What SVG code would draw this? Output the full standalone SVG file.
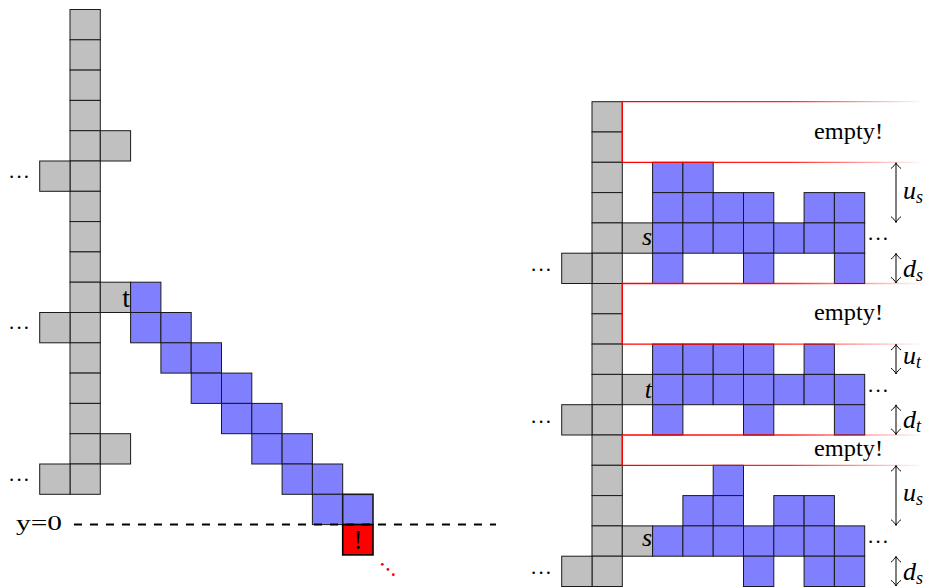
<svg xmlns="http://www.w3.org/2000/svg" width="930" height="587" viewBox="0 0 930 587">
<style>
.g{fill:#c0c0c0;stroke:#1a1a1a;stroke-width:1}
.b{fill:#8080ff;stroke:#1a1a1a;stroke-width:1}
.r{fill:#ff0000;stroke:#000;stroke-width:1.6}
.txt{font-family:"Liberation Serif",serif;fill:#000}
.it{font-family:"Liberation Serif",serif;font-style:italic;fill:#000}
.dots{font-family:"Liberation Serif",serif;font-size:21px;fill:#000;font-variant-ligatures:none}
.emp{font-family:"Liberation Serif",serif;font-size:24px;fill:#000}
.red{stroke:url(#fade);stroke-width:1.3;fill:none}
.redv{stroke:#ff0000;stroke-width:1.3;fill:none}
.arr{stroke:#000;stroke-width:1;fill:none}
</style>
<defs>
<linearGradient id="fade" gradientUnits="userSpaceOnUse" x1="622" y1="0" x2="925" y2="0">
<stop offset="0" stop-color="#ff0000" stop-opacity="1"/>
<stop offset="0.55" stop-color="#ff0000" stop-opacity="0.85"/>
<stop offset="1" stop-color="#ff0000" stop-opacity="0"/>
</linearGradient>
</defs>

<g id="left-diagram">
<g id="left-column">
<rect class="g" x="70" y="9.5" width="30.3" height="30.3"/>
<rect class="g" x="70" y="39.8" width="30.3" height="30.3"/>
<rect class="g" x="70" y="70.1" width="30.3" height="30.3"/>
<rect class="g" x="70" y="100.4" width="30.3" height="30.3"/>
<rect class="g" x="70" y="130.7" width="30.3" height="30.3"/>
<rect class="g" x="70" y="161" width="30.3" height="30.3"/>
<rect class="g" x="70" y="191.3" width="30.3" height="30.3"/>
<rect class="g" x="70" y="221.6" width="30.3" height="30.3"/>
<rect class="g" x="70" y="251.9" width="30.3" height="30.3"/>
<rect class="g" x="70" y="282.2" width="30.3" height="30.3"/>
<rect class="g" x="70" y="312.5" width="30.3" height="30.3"/>
<rect class="g" x="70" y="342.8" width="30.3" height="30.3"/>
<rect class="g" x="70" y="373.1" width="30.3" height="30.3"/>
<rect class="g" x="70" y="403.4" width="30.3" height="30.3"/>
<rect class="g" x="70" y="433.7" width="30.3" height="30.3"/>
<rect class="g" x="70" y="464" width="30.3" height="30.3"/>
<rect class="g" x="100.3" y="130.7" width="30.3" height="30.3"/>
<rect class="g" x="100.3" y="282.2" width="30.3" height="30.3"/>
<rect class="g" x="100.3" y="433.7" width="30.3" height="30.3"/>
<rect class="g" x="39.7" y="161" width="30.3" height="30.3"/>
<rect class="g" x="39.7" y="312.5" width="30.3" height="30.3"/>
<rect class="g" x="39.7" y="464" width="30.3" height="30.3"/>
<text class="txt" x="130" y="306.5" font-size="28" text-anchor="end">t</text>
<text class="dots" x="9" y="178" textLength="20" lengthAdjust="spacing">...</text>
<text class="dots" x="9" y="329" textLength="20" lengthAdjust="spacing">...</text>
<text class="dots" x="9" y="481" textLength="20" lengthAdjust="spacing">...</text>
</g>
<g id="left-diagonal">
<rect class="b" x="130.6" y="282.2" width="30.3" height="30.3"/>
<rect class="b" x="130.6" y="312.5" width="30.3" height="30.3"/>
<rect class="b" x="160.9" y="312.5" width="30.3" height="30.3"/>
<rect class="b" x="160.9" y="342.8" width="30.3" height="30.3"/>
<rect class="b" x="191.2" y="342.8" width="30.3" height="30.3"/>
<rect class="b" x="191.2" y="373.1" width="30.3" height="30.3"/>
<rect class="b" x="221.5" y="373.1" width="30.3" height="30.3"/>
<rect class="b" x="221.5" y="403.4" width="30.3" height="30.3"/>
<rect class="b" x="251.8" y="403.4" width="30.3" height="30.3"/>
<rect class="b" x="251.8" y="433.7" width="30.3" height="30.3"/>
<rect class="b" x="282.1" y="433.7" width="30.3" height="30.3"/>
<rect class="b" x="282.1" y="464" width="30.3" height="30.3"/>
<rect class="b" x="312.4" y="464" width="30.3" height="30.3"/>
<rect class="b" x="312.4" y="494.3" width="30.3" height="30.3"/>
<rect class="b" x="342.7" y="494.3" width="30.3" height="30.3" style="stroke-width:1.6"/>
</g>
<g id="red-cell">
<rect class="r" x="342.7" y="524.6" width="30.3" height="30.3"/>
<text class="txt" x="357.9" y="548.5" font-size="28" text-anchor="middle">!</text>
<circle cx="382.3" cy="564.3" r="1.4" fill="#ff0000"/>
<circle cx="387.9" cy="569.4" r="1.4" fill="#ff0000"/>
<circle cx="393.3" cy="574.7" r="1.4" fill="#ff0000"/>
</g>
<g id="y0-line">
<line x1="74" y1="524.6" x2="496" y2="524.6" stroke="#000" stroke-width="2" stroke-dasharray="8 8"/>
<text class="txt" x="16" y="530" font-size="22" textLength="46" lengthAdjust="spacingAndGlyphs">y=0</text>
</g>
</g>

<g id="right-diagram">
<g id="right-column">
<rect class="g" x="592" y="101.7" width="30.3" height="30.3"/>
<rect class="g" x="592" y="132" width="30.3" height="30.3"/>
<rect class="g" x="592" y="162.3" width="30.3" height="30.3"/>
<rect class="g" x="592" y="192.6" width="30.3" height="30.3"/>
<rect class="g" x="592" y="222.9" width="30.3" height="30.3"/>
<rect class="g" x="592" y="253.2" width="30.3" height="30.3"/>
<rect class="g" x="592" y="283.5" width="30.3" height="30.3"/>
<rect class="g" x="592" y="313.8" width="30.3" height="30.3"/>
<rect class="g" x="592" y="344.1" width="30.3" height="30.3"/>
<rect class="g" x="592" y="374.4" width="30.3" height="30.3"/>
<rect class="g" x="592" y="404.7" width="30.3" height="30.3"/>
<rect class="g" x="592" y="435" width="30.3" height="30.3"/>
<rect class="g" x="592" y="465.3" width="30.3" height="30.3"/>
<rect class="g" x="592" y="495.6" width="30.3" height="30.3"/>
<rect class="g" x="592" y="525.9" width="30.3" height="30.3"/>
<rect class="g" x="592" y="556.2" width="30.3" height="30.3"/>
<rect class="g" x="561.7" y="253.2" width="30.3" height="30.3"/>
<rect class="g" x="561.7" y="404.7" width="30.3" height="30.3"/>
<rect class="g" x="561.7" y="556.2" width="30.3" height="30.3"/>
<text class="dots" x="531" y="271" textLength="20" lengthAdjust="spacing">...</text>
<text class="dots" x="531" y="422.5" textLength="20" lengthAdjust="spacing">...</text>
<text class="dots" x="531" y="574" textLength="20" lengthAdjust="spacing">...</text>
</g>

<g id="block-s1">
<rect class="g" x="622.3" y="222.9" width="30.3" height="30.3"/>
<text class="it" x="652" y="244.5" font-size="26" text-anchor="end">s</text>
<rect class="b" x="652.6" y="162.3" width="30.3" height="30.3"/>
<rect class="b" x="682.9" y="162.3" width="30.3" height="30.3"/>
<rect class="b" x="652.6" y="192.6" width="30.3" height="30.3"/>
<rect class="b" x="682.9" y="192.6" width="30.3" height="30.3"/>
<rect class="b" x="713.2" y="192.6" width="30.3" height="30.3"/>
<rect class="b" x="743.5" y="192.6" width="30.3" height="30.3"/>
<rect class="b" x="804.1" y="192.6" width="30.3" height="30.3"/>
<rect class="b" x="834.4" y="192.6" width="30.3" height="30.3"/>
<rect class="b" x="652.6" y="222.9" width="30.3" height="30.3"/>
<rect class="b" x="682.9" y="222.9" width="30.3" height="30.3"/>
<rect class="b" x="713.2" y="222.9" width="30.3" height="30.3"/>
<rect class="b" x="743.5" y="222.9" width="30.3" height="30.3"/>
<rect class="b" x="773.8" y="222.9" width="30.3" height="30.3"/>
<rect class="b" x="804.1" y="222.9" width="30.3" height="30.3"/>
<rect class="b" x="834.4" y="222.9" width="30.3" height="30.3"/>
<rect class="b" x="652.6" y="253.2" width="30.3" height="30.3"/>
<rect class="b" x="743.5" y="253.2" width="30.3" height="30.3"/>
<rect class="b" x="834.4" y="253.2" width="30.3" height="30.3"/>
<text class="dots" x="868" y="240" textLength="20" lengthAdjust="spacing">...</text>
</g>

<g id="block-t">
<rect class="g" x="622.3" y="374.4" width="30.3" height="30.3"/>
<text class="it" x="652" y="397.5" font-size="26" text-anchor="end">t</text>
<rect class="b" x="652.6" y="344.1" width="30.3" height="30.3"/>
<rect class="b" x="682.9" y="344.1" width="30.3" height="30.3"/>
<rect class="b" x="713.2" y="344.1" width="30.3" height="30.3"/>
<rect class="b" x="743.5" y="344.1" width="30.3" height="30.3"/>
<rect class="b" x="804.1" y="344.1" width="30.3" height="30.3"/>
<rect class="b" x="652.6" y="374.4" width="30.3" height="30.3"/>
<rect class="b" x="682.9" y="374.4" width="30.3" height="30.3"/>
<rect class="b" x="713.2" y="374.4" width="30.3" height="30.3"/>
<rect class="b" x="743.5" y="374.4" width="30.3" height="30.3"/>
<rect class="b" x="773.8" y="374.4" width="30.3" height="30.3"/>
<rect class="b" x="804.1" y="374.4" width="30.3" height="30.3"/>
<rect class="b" x="834.4" y="374.4" width="30.3" height="30.3"/>
<rect class="b" x="652.6" y="404.7" width="30.3" height="30.3"/>
<rect class="b" x="743.5" y="404.7" width="30.3" height="30.3"/>
<rect class="b" x="834.4" y="404.7" width="30.3" height="30.3"/>
<text class="dots" x="868" y="391.5" textLength="20" lengthAdjust="spacing">...</text>
</g>

<g id="block-s2">
<rect class="g" x="622.3" y="525.9" width="30.3" height="30.3"/>
<text class="it" x="652" y="546" font-size="26" text-anchor="end">s</text>
<rect class="b" x="713.2" y="465.3" width="30.3" height="30.3"/>
<rect class="b" x="682.9" y="495.6" width="30.3" height="30.3"/>
<rect class="b" x="713.2" y="495.6" width="30.3" height="30.3"/>
<rect class="b" x="773.8" y="495.6" width="30.3" height="30.3"/>
<rect class="b" x="804.1" y="495.6" width="30.3" height="30.3"/>
<rect class="b" x="652.6" y="525.9" width="30.3" height="30.3"/>
<rect class="b" x="682.9" y="525.9" width="30.3" height="30.3"/>
<rect class="b" x="713.2" y="525.9" width="30.3" height="30.3"/>
<rect class="b" x="743.5" y="525.9" width="30.3" height="30.3"/>
<rect class="b" x="773.8" y="525.9" width="30.3" height="30.3"/>
<rect class="b" x="804.1" y="525.9" width="30.3" height="30.3"/>
<rect class="b" x="834.4" y="525.9" width="30.3" height="30.3"/>
<rect class="b" x="743.5" y="556.2" width="30.3" height="30.3"/>
<rect class="b" x="804.1" y="556.2" width="30.3" height="30.3"/>
<rect class="b" x="834.4" y="556.2" width="30.3" height="30.3"/>
<text class="dots" x="868" y="543" textLength="20" lengthAdjust="spacing">...</text>
</g>

<g id="empty-regions">
<line class="red" x1="622.3" y1="101.7" x2="925" y2="101.7"/>
<line class="red" x1="622.3" y1="162.3" x2="925" y2="162.3"/>
<line class="redv" x1="622.3" y1="101.7" x2="622.3" y2="162.3"/>
<line class="red" x1="622.3" y1="283.5" x2="925" y2="283.5"/>
<line class="red" x1="622.3" y1="344.1" x2="925" y2="344.1"/>
<line class="redv" x1="622.3" y1="283.5" x2="622.3" y2="344.1"/>
<line class="red" x1="622.3" y1="435" x2="925" y2="435"/>
<line class="red" x1="622.3" y1="465.3" x2="925" y2="465.3"/>
<line class="redv" x1="622.3" y1="435" x2="622.3" y2="465.3"/>
<text class="emp" x="814" y="138.5" textLength="69" lengthAdjust="spacingAndGlyphs">empty!</text>
<text class="emp" x="814" y="319.5" textLength="69" lengthAdjust="spacingAndGlyphs">empty!</text>
<text class="emp" x="814" y="455.5" textLength="69" lengthAdjust="spacingAndGlyphs">empty!</text>
</g>

<g id="connectors">
<g id="arrow-us1">
<path class="arr" d="M896,163 V222.4 M891,168.5 C893,167 895.2,164.8 896,162.8 C896.8,164.8 899,167 901,168.5 M891,216.7 C893,218.2 895.2,220.4 896,222.4 C896.8,220.4 899,218.2 901,216.7"/>
<text class="it" x="903" y="199" font-size="26">u<tspan font-size="18" dy="4">s</tspan></text>
</g>
<g id="arrow-ds1">
<path class="arr" d="M896,253.6 V283 M891,259.1 C893,257.6 895.2,255.4 896,253.4 C896.8,255.4 899,257.6 901,259.1 M891,277.3 C893,278.8 895.2,281 896,283 C896.8,281 899,278.8 901,277.3"/>
<text class="it" x="903" y="277" font-size="26">d<tspan font-size="18" dy="4">s</tspan></text>
</g>
<g id="arrow-ut">
<path class="arr" d="M896,344.5 V373.9 M891,350 C893,348.5 895.2,346.3 896,344.3 C896.8,346.3 899,348.5 901,350 M891,368.2 C893,369.7 895.2,371.9 896,373.9 C896.8,371.9 899,369.7 901,368.2"/>
<text class="it" x="903" y="364" font-size="26">u<tspan font-size="18" dy="4">t</tspan></text>
</g>
<g id="arrow-dt">
<path class="arr" d="M896,405.1 V434.5 M891,410.6 C893,409.1 895.2,406.9 896,404.9 C896.8,406.9 899,409.1 901,410.6 M891,428.8 C893,430.3 895.2,432.5 896,434.5 C896.8,432.5 899,430.3 901,428.8"/>
<text class="it" x="903" y="428" font-size="26">d<tspan font-size="18" dy="4">t</tspan></text>
</g>
<g id="arrow-us2">
<path class="arr" d="M896,465.7 V525.4 M891,471.2 C893,469.7 895.2,467.5 896,465.5 C896.8,467.5 899,469.7 901,471.2 M891,519.7 C893,521.2 895.2,523.4 896,525.4 C896.8,523.4 899,521.2 901,519.7"/>
<text class="it" x="903" y="501" font-size="26">u<tspan font-size="18" dy="4">s</tspan></text>
</g>
<g id="arrow-ds2">
<path class="arr" d="M896,556.6 V586 M891,562.1 C893,560.6 895.2,558.4 896,556.4 C896.8,558.4 899,560.6 901,562.1 M891,580.3 C893,581.8 895.2,584 896,586 C896.8,584 899,581.8 901,580.3"/>
<text class="it" x="903" y="580" font-size="26">d<tspan font-size="18" dy="4">s</tspan></text>
</g>
</g>
</g>
</svg>
